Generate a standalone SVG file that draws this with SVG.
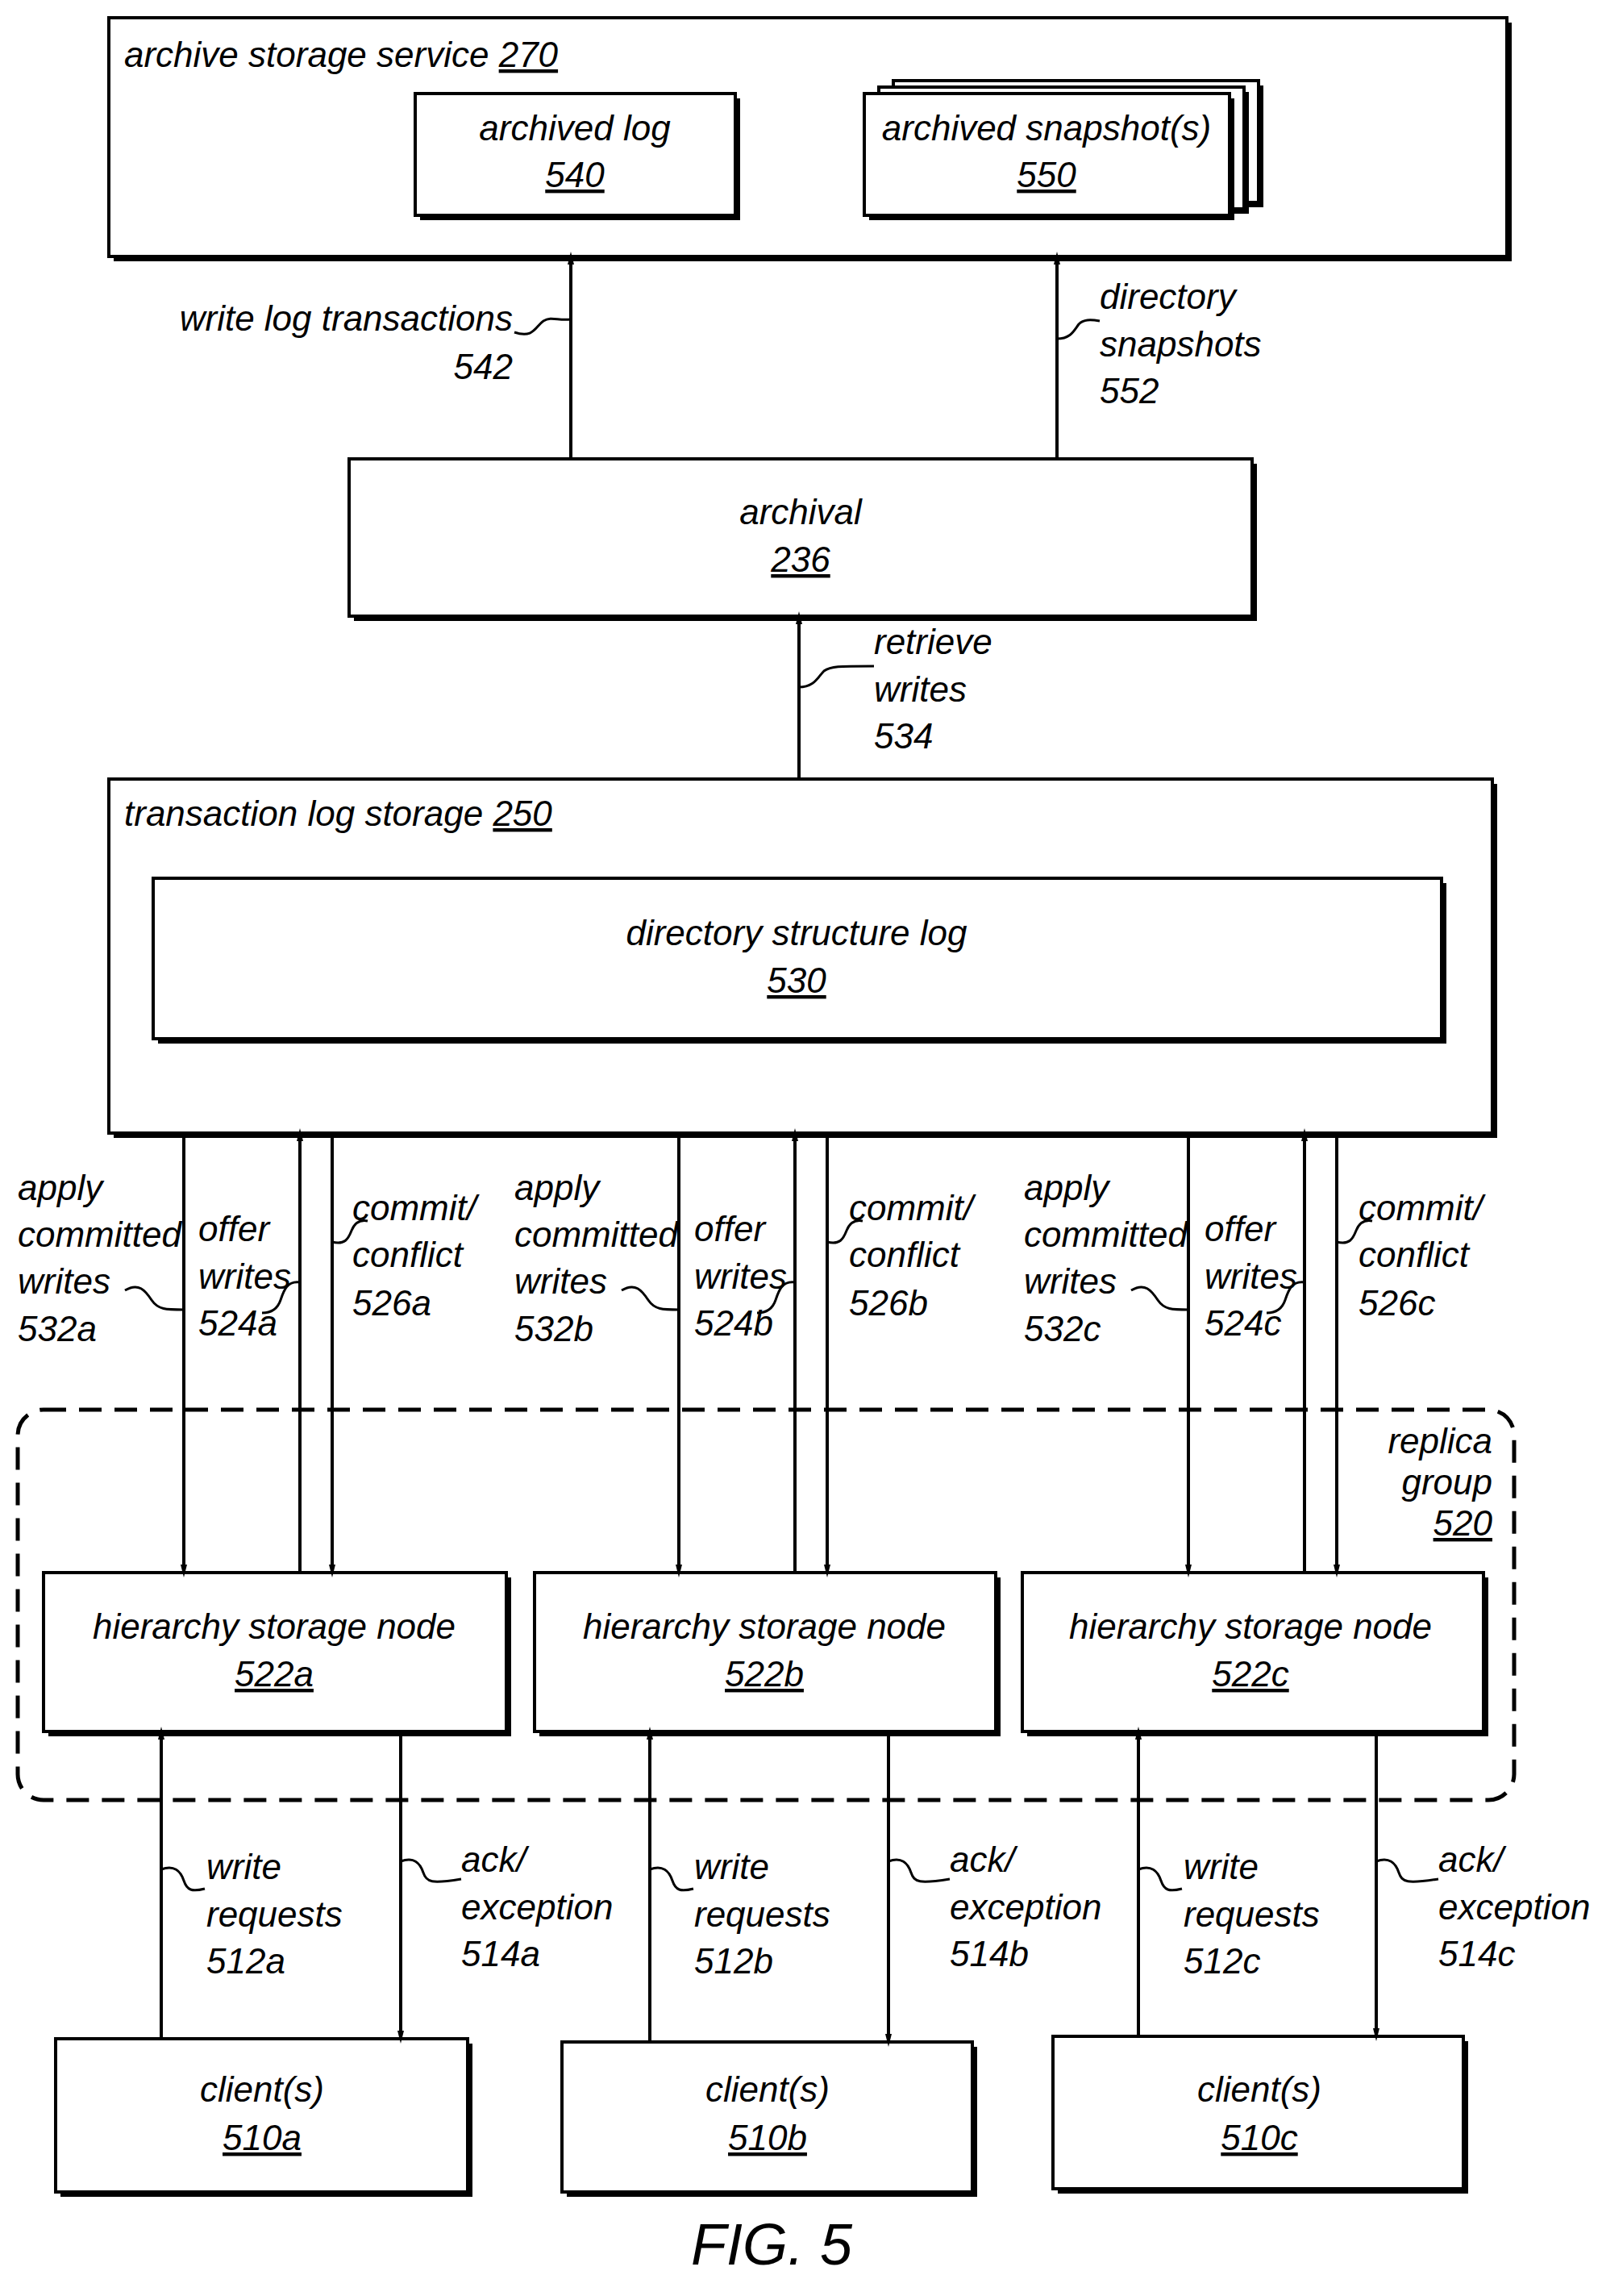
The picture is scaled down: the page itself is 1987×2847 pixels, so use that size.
<svg xmlns="http://www.w3.org/2000/svg" width="1987" height="2847" viewBox="0 0 1987 2847">
<style>
text{font-family:"Liberation Sans Narrow","Liberation Sans",Arial,sans-serif;font-stretch:condensed;font-style:italic;font-size:44px;fill:#000}
.c{text-anchor:middle}.r{text-anchor:end}.u{text-decoration:underline}
.box{fill:#fff;stroke:#000;stroke-width:4}
.sh{fill:#000}
.ln{stroke:#000;stroke-width:4;fill:none}
.sq{stroke:#000;stroke-width:3;fill:none}
</style>
<defs>
<marker id="ah" markerWidth="16" markerHeight="32" refX="16" refY="8" orient="auto" markerUnits="userSpaceOnUse" viewBox="0 0 32 16">
<path d="M0,0 L32,8 L0,16 Z" fill="#000"/>
</marker>
</defs>
<g id="archive-storage-service">
<rect class="sh" x="141" y="28" width="1734" height="296"/>
<rect class="box" x="135" y="22" width="1734" height="296"/>
<text x="154" y="83">archive storage service <tspan class="u">270</tspan></text>
</g>
<g id="archived-log">
<rect class="sh" x="521" y="122" width="397" height="151"/>
<rect class="box" x="515" y="116" width="397" height="151"/>
<text class="c" x="713" y="174">archived log</text>
<text class="c u" x="713" y="232">540</text>
</g>
<g id="archived-snapshots">
<rect class="sh" x="1114" y="106" width="453" height="151"/>
<rect class="box" x="1108" y="100" width="453" height="151"/>
<rect class="sh" x="1096" y="114" width="453" height="151"/>
<rect class="box" x="1090" y="108" width="453" height="151"/>
<rect class="sh" x="1078" y="122" width="453" height="151"/>
<rect class="box" x="1072" y="116" width="453" height="151"/>
<text class="c" x="1298" y="174">archived snapshot(s)</text>
<text class="c u" x="1298" y="232">550</text>
</g>
<g id="archival">
<rect class="sh" x="439" y="575" width="1120" height="195"/>
<rect class="box" x="433" y="569" width="1120" height="195"/>
<text class="c" x="993" y="650">archival</text>
<text class="c u" x="993" y="709">236</text>
</g>
<g id="transaction-log-storage">
<rect class="sh" x="141" y="972" width="1716" height="439"/>
<rect class="box" x="135" y="966" width="1716" height="439"/>
<text x="154" y="1024">transaction log storage <tspan class="u">250</tspan></text>
</g>
<g id="directory-structure-log">
<rect class="sh" x="196" y="1095" width="1598" height="199"/>
<rect class="box" x="190" y="1089" width="1598" height="199"/>
<text class="c" x="988" y="1172">directory structure log</text>
<text class="c u" x="988" y="1231">530</text>
</g>
<g id="replica-group">
<rect x="22" y="1748" width="1856" height="484" rx="32" fill="none" stroke="#000" stroke-width="5" stroke-dasharray="28,16"/>
<text class="r" x="1851" y="1802">replica</text>
<text class="r" x="1851" y="1853">group</text>
<text class="r u" x="1851" y="1904">520</text>
</g>
<g id="hsn-522a">
<rect class="sh" x="60" y="1956" width="574" height="197"/>
<rect class="box" x="54" y="1950" width="574" height="197"/>
<text class="c" x="340" y="2032">hierarchy storage node</text>
<text class="c u" x="340" y="2091">522a</text>
</g>
<g id="hsn-522b">
<rect class="sh" x="669" y="1956" width="572" height="197"/>
<rect class="box" x="663" y="1950" width="572" height="197"/>
<text class="c" x="948" y="2032">hierarchy storage node</text>
<text class="c u" x="948" y="2091">522b</text>
</g>
<g id="hsn-522c">
<rect class="sh" x="1274" y="1956" width="572" height="197"/>
<rect class="box" x="1268" y="1950" width="572" height="197"/>
<text class="c" x="1551" y="2032">hierarchy storage node</text>
<text class="c u" x="1551" y="2091">522c</text>
</g>
<g id="client-510a">
<rect class="sh" x="75" y="2534" width="511" height="190"/>
<rect class="box" x="69" y="2528" width="511" height="190"/>
<text class="c" x="325" y="2606">client(s)</text>
<text class="c u" x="325" y="2666">510a</text>
</g>
<g id="client-510b">
<rect class="sh" x="703" y="2538" width="509" height="186"/>
<rect class="box" x="697" y="2532" width="509" height="186"/>
<text class="c" x="952" y="2606">client(s)</text>
<text class="c u" x="952" y="2666">510b</text>
</g>
<g id="client-510c">
<rect class="sh" x="1312" y="2531" width="509" height="189"/>
<rect class="box" x="1306" y="2525" width="509" height="189"/>
<text class="c" x="1562" y="2606">client(s)</text>
<text class="c u" x="1562" y="2666">510c</text>
</g>
<g id="connectors">
<line class="ln" x1="708" y1="569" x2="708" y2="320" marker-end="url(#ah)"/>
<line class="ln" x1="1311" y1="569" x2="1311" y2="320" marker-end="url(#ah)"/>
<line class="ln" x1="991" y1="966" x2="991" y2="766" marker-end="url(#ah)"/>
<line class="ln" x1="228" y1="1405" x2="228" y2="1948" marker-end="url(#ah)"/>
<line class="ln" x1="372" y1="1950" x2="372" y2="1407" marker-end="url(#ah)"/>
<line class="ln" x1="412" y1="1405" x2="412" y2="1948" marker-end="url(#ah)"/>
<line class="ln" x1="842" y1="1405" x2="842" y2="1948" marker-end="url(#ah)"/>
<line class="ln" x1="986" y1="1950" x2="986" y2="1407" marker-end="url(#ah)"/>
<line class="ln" x1="1026" y1="1405" x2="1026" y2="1948" marker-end="url(#ah)"/>
<line class="ln" x1="1474" y1="1405" x2="1474" y2="1948" marker-end="url(#ah)"/>
<line class="ln" x1="1618" y1="1950" x2="1618" y2="1407" marker-end="url(#ah)"/>
<line class="ln" x1="1658" y1="1405" x2="1658" y2="1948" marker-end="url(#ah)"/>
<line class="ln" x1="200" y1="2528" x2="200" y2="2149" marker-end="url(#ah)"/>
<line class="ln" x1="497" y1="2147" x2="497" y2="2526" marker-end="url(#ah)"/>
<line class="ln" x1="806" y1="2532" x2="806" y2="2149" marker-end="url(#ah)"/>
<line class="ln" x1="1102" y1="2147" x2="1102" y2="2530" marker-end="url(#ah)"/>
<line class="ln" x1="1412" y1="2525" x2="1412" y2="2149" marker-end="url(#ah)"/>
<line class="ln" x1="1707" y1="2147" x2="1707" y2="2523" marker-end="url(#ah)"/>
</g>
<g id="labels">
<text class="r" x="636" y="410">write log transactions</text>
<text class="r" x="636" y="470">542</text>
<path class="sq" d="M638,412 C662,420 664,405 674,398 C684,392 692,398 708,396"/>
<text x="1364" y="383">directory</text>
<text x="1364" y="442">snapshots</text>
<text x="1364" y="500">552</text>
<path class="sq" d="M1311,420 C1328,420 1332,410 1338,402 C1344,396 1352,396 1364,398"/>
<text x="1084" y="811">retrieve</text>
<text x="1084" y="870">writes</text>
<text x="1084" y="928">534</text>
<path class="sq" d="M991,852 C1010,852 1014,840 1022,832 C1030,826 1040,826 1084,826"/>

<text x="22" y="1488">apply</text><text x="22" y="1546">committed</text><text x="22" y="1604">writes</text><text x="22" y="1663">532a</text>
<text x="246" y="1539">offer</text><text x="246" y="1598">writes</text><text x="246" y="1656">524a</text>
<text x="437" y="1513">commit/</text><text x="437" y="1571">conflict</text><text x="437" y="1631">526a</text>
<text x="638" y="1488">apply</text><text x="638" y="1546">committed</text><text x="638" y="1604">writes</text><text x="638" y="1663">532b</text>
<text x="861" y="1539">offer</text><text x="861" y="1598">writes</text><text x="861" y="1656">524b</text>
<text x="1053" y="1513">commit/</text><text x="1053" y="1571">conflict</text><text x="1053" y="1631">526b</text>
<text x="1270" y="1488">apply</text><text x="1270" y="1546">committed</text><text x="1270" y="1604">writes</text><text x="1270" y="1663">532c</text>
<text x="1494" y="1539">offer</text><text x="1494" y="1598">writes</text><text x="1494" y="1656">524c</text>
<text x="1685" y="1513">commit/</text><text x="1685" y="1571">conflict</text><text x="1685" y="1631">526c</text>

<path class="sq" d="M155,1600 C172,1590 180,1600 188,1612 C196,1624 206,1624 228,1624"/>
<path class="sq" d="M771,1600 C788,1590 796,1600 804,1612 C812,1624 822,1624 842,1624"/>
<path class="sq" d="M1403,1600 C1420,1590 1428,1600 1436,1612 C1444,1624 1454,1624 1474,1624"/>
<path class="sq" d="M372,1590 C356,1588 352,1600 348,1612 C344,1624 336,1628 325,1628"/>
<path class="sq" d="M986,1590 C970,1588 966,1600 962,1612 C958,1624 950,1628 939,1628"/>
<path class="sq" d="M1618,1590 C1602,1588 1598,1600 1594,1612 C1590,1624 1582,1628 1571,1628"/>
<path class="sq" d="M412,1540 C428,1544 432,1536 436,1526 C440,1516 446,1512 456,1514"/>
<path class="sq" d="M1026,1540 C1042,1544 1046,1536 1050,1526 C1054,1516 1060,1512 1070,1514"/>
<path class="sq" d="M1658,1540 C1674,1544 1678,1536 1682,1526 C1686,1516 1692,1512 1702,1514"/>

<text x="256" y="2330">write</text><text x="256" y="2389">requests</text><text x="256" y="2447">512a</text>
<text x="572" y="2321">ack/</text><text x="572" y="2380">exception</text><text x="572" y="2438">514a</text>
<text x="861" y="2330">write</text><text x="861" y="2389">requests</text><text x="861" y="2447">512b</text>
<text x="1178" y="2321">ack/</text><text x="1178" y="2380">exception</text><text x="1178" y="2438">514b</text>
<text x="1468" y="2330">write</text><text x="1468" y="2389">requests</text><text x="1468" y="2447">512c</text>
<text x="1784" y="2321">ack/</text><text x="1784" y="2380">exception</text><text x="1784" y="2438">514c</text>
<path class="sq" d="M200,2318 C216,2312 224,2320 228,2332 C232,2344 238,2346 254,2342"/>
<path class="sq" d="M806,2318 C822,2312 830,2320 834,2332 C838,2344 844,2346 860,2342"/>
<path class="sq" d="M1412,2318 C1428,2312 1436,2320 1440,2332 C1444,2344 1450,2346 1466,2342"/>
<path class="sq" d="M497,2308 C513,2302 521,2310 525,2322 C529,2334 535,2336 572,2330"/>
<path class="sq" d="M1102,2308 C1118,2302 1126,2310 1130,2322 C1134,2334 1140,2336 1178,2330"/>
<path class="sq" d="M1707,2308 C1723,2302 1731,2310 1735,2322 C1739,2334 1745,2336 1784,2330"/>
<text class="c" x="957" y="2808" style="font-family:'Liberation Sans',Arial,sans-serif;font-stretch:normal;font-size:72px">FIG. 5</text>
</g>
</svg>
